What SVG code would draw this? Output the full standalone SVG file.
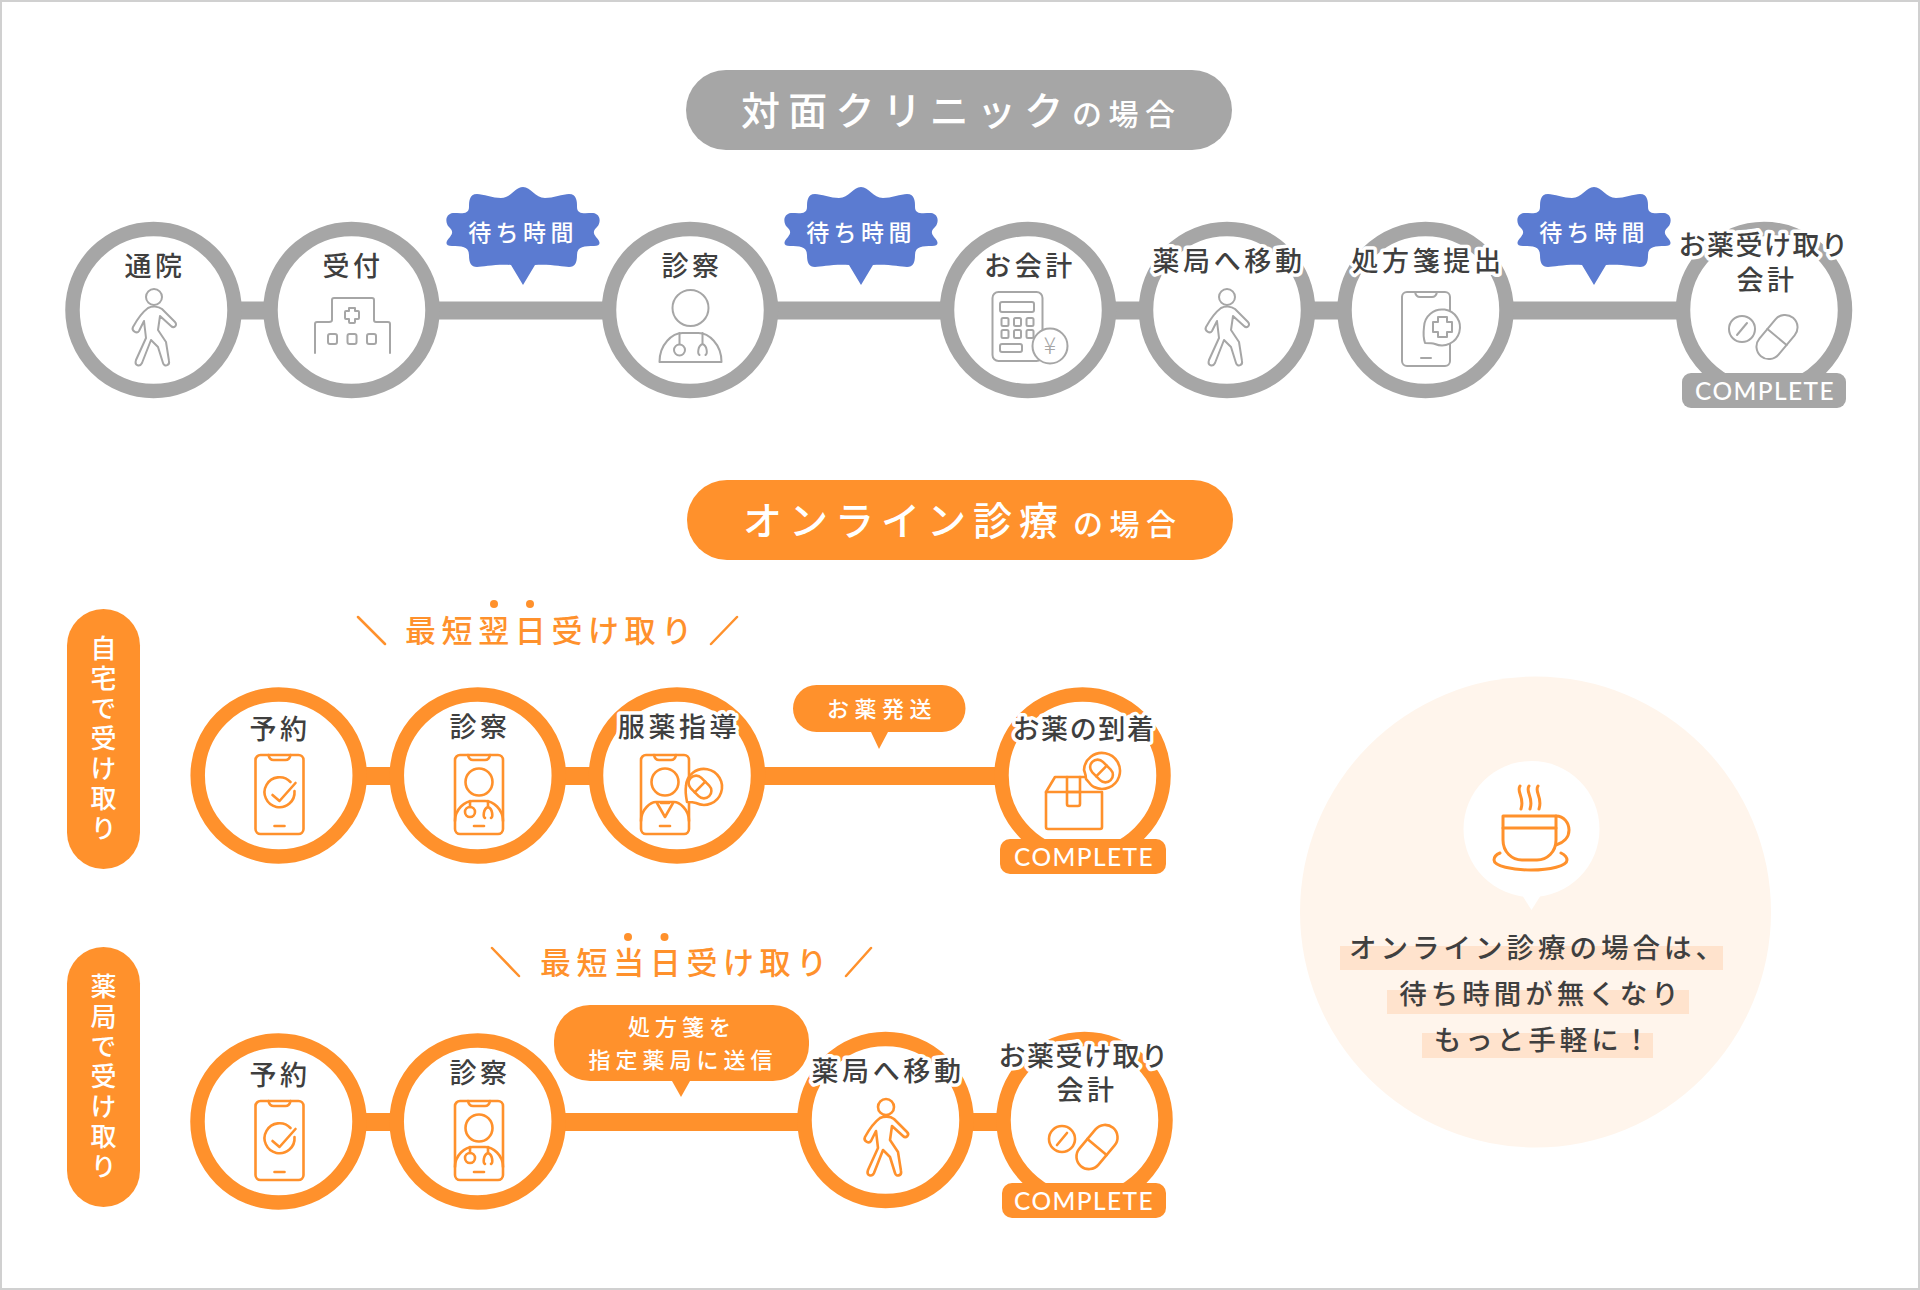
<svg xmlns="http://www.w3.org/2000/svg" width="1920" height="1290" viewBox="0 0 1920 1290">
<style>
text{font-family:"Noto Sans CJK JP","Noto Sans",sans-serif;}
.ring{fill:#fff;stroke-width:14.5}
.g .ring{stroke:#a6a6a6}.o .ring{stroke:#ff912c}
.con{stroke-width:18;fill:none}
.cg{stroke:#a6a6a6}.co{stroke:#ff912c}
.ig{fill:none;stroke:#a6a6a6;stroke-width:2;stroke-linecap:round;stroke-linejoin:round}
.io{fill:none;stroke:#ff912c;stroke-width:2.6;stroke-linecap:round;stroke-linejoin:round}
.lb{font-size:27px;font-weight:500;fill:#3f3f3f;text-anchor:middle;letter-spacing:3.6px}
.hl{paint-order:stroke;stroke:#fff;stroke-width:7px;stroke-linejoin:round}
.wh{fill:#fff;text-anchor:middle;font-weight:500}
.wt{font-size:23px;letter-spacing:4.4px}
.cp{font-family:"Lato",sans-serif;font-size:24.500px;font-weight:500;letter-spacing:1.4px;fill:#fff;text-anchor:middle}
.hd{fill:#fff;font-weight:500;letter-spacing:7px;font-size:39px}
.hs{font-size:30px;letter-spacing:6.500px}
.v{fill:#fff;font-size:26px;font-weight:500;writing-mode:vertical-rl;letter-spacing:4px;text-anchor:start}
.sub{fill:#ff912c;font-size:31px;font-weight:500;letter-spacing:5.6px}
.sl{stroke:#ff912c;stroke-width:2.5;stroke-linecap:round;fill:none}
.bb{font-size:22px;letter-spacing:5.5px}
.msg{fill:#3f3f3f;font-size:27.500px;font-weight:500;letter-spacing:4px;text-anchor:middle}
.band{fill:#ffe3cd}
</style>
<defs>
<g id="i-walk">
<ellipse cx="0" cy="-13" rx="8" ry="8"/>
<path d="M-6,-2C-10,1 -15,6 -21,17C-23,21 -17,24 -15,21L-10,11L-8,28L-18,50C-20,56 -14,57 -12,53L-3,30L4,37L9,53C10,57 16,56 15,51L12,32L4,20L6,6L17,16C20,19 24,15 21,12L8,-1C4,-4 -2,-4 -6,-2Z"/>
</g>
<g id="i-pills">
<circle cx="-22" cy="19" r="13"/><path d="M-27,25L-17,13"/>
<g transform="translate(13,27) rotate(40)"><rect x="-12.500" y="-25" width="25" height="50" rx="12.500"/><path d="M-12.500,0H12.500"/></g>
</g>
<g id="i-phone">
<rect x="-24" y="0" width="48" height="79" rx="5"/>
<path d="M-11,0Q-10,5 -6,5H6Q10,5 11,0"/><path d="M-5,71H5"/>
</g>
<g id="i-check"><use href="#i-phone"/><path d="M11,27A15,15 0 1 0 15,36"/><path d="M-7,40L0,46L16,28"/></g>
<g id="i-docphone"><use href="#i-phone"/><circle cx="0" cy="27" r="13.500"/>
<path d="M-24,66C-24,54 -14,46 -6,46H6C14,46 24,54 24,66"/><path d="M-9,46V52"/><circle cx="-9" cy="57" r="5"/><path d="M9,46V52C4,54 4,62 6,63M9,52C14,54 14,62 12,63"/></g>
<g id="i-cap"><g transform="rotate(-45)"><rect x="-7.500" y="-13" width="15" height="26" rx="7.500"/><path d="M-7.500,0H7.500"/></g></g>
<path id="burst" d="M0,-40C8,-40 12,-29 22,-29C30,-29 40,-33 46,-33C54,-33 54,-25 54,-20C54,-12 62,-14 70,-14C78,-13 78,-4 74,0C70,4 70,6 73,10C78,15 78,19 71,19C62,19 54,19 54,28C54,36 52,40 46,40C40,40 28,37 12,38L0,58L-12,38C-28,37 -40,40 -46,40C-52,40 -54,36 -54,28C-54,19 -62,19 -71,19C-78,19 -78,15 -73,10C-70,6 -70,4 -74,0C-78,-4 -78,-13 -70,-14C-62,-14 -54,-12 -54,-20C-54,-25 -54,-33 -46,-33C-40,-33 -30,-29 -22,-29C-12,-29 -8,-40 0,-40Z"/>
</defs>
<rect width="1920" height="1290" fill="#fff"/>
<rect x="1" y="1" width="1918" height="1288" fill="none" stroke="#d0d0d0" stroke-width="2"/>

<g id="connectors">
<path class="con cg" d="M153,310.500H1764"/>
<path class="con co" d="M279,776H1082"/>
<path class="con co" d="M279,1122H1084"/>
</g>

<g id="title-clinic"><rect x="686" y="70" width="546" height="80" rx="40" fill="#a6a6a6"/>
<text class="hd" style="letter-spacing:8.200px" x="741" y="125">対面クリニック<tspan class="hs" x="1072" y="125">の場合</tspan></text></g>

<g class="g">
<g id="n-tsuin"><circle class="ring" cx="153.500" cy="310" r="81"/><text class="lb" x="155" y="276">通院</text><use class="ig" href="#i-walk" x="154" y="310"/></g>
<g id="n-uketsuke"><circle class="ring" cx="351.500" cy="310" r="81"/><text class="lb" x="353" y="276">受付</text>
<g class="ig" transform="translate(352,310)"><path d="M-37,43V14Q-37,12 -35,12H-23Q-20,12 -20,10V-10Q-20,-12 -18,-12H20Q22,-12 22,-10V10Q22,12 24,12H36Q38,12 38,14V43"/><path d="M-3,-3H3V0H6Q7,0 7,1V7Q7,8 6,8H3V11Q3,12 2,12H-2Q-3,12 -3,11V8H-6Q-7,8 -7,7V1Q-7,0 -6,0H-3Z" transform="translate(0,1)"/><rect x="-24" y="24" width="9" height="10" rx="2"/><rect x="-4.500" y="24" width="9" height="10" rx="2"/><rect x="15" y="24" width="9" height="10" rx="2"/></g></g>
<g id="n-shinsatsu"><circle class="ring" cx="690" cy="310" r="81"/><text class="lb" x="692" y="276">診察</text>
<g class="ig" transform="translate(690.500,310)"><circle cx="0" cy="-2" r="18"/><path d="M-31,52C-31,34 -18,23 -8,23H8C18,23 31,34 31,52H-31Z"/><path d="M-11,23V34"/><circle cx="-11" cy="40" r="5.500"/><path d="M12,23V34C7,36 7,44 9,45M12,34C17,36 17,44 15,45"/></g></g>
<g id="n-kaikei"><circle class="ring" cx="1028" cy="310" r="81"/><text class="lb" x="1030" y="276">お会計</text>
<g class="ig"><rect x="992.500" y="292" width="50" height="69" rx="6"/><rect x="1000" y="302" width="34" height="10" rx="2"/>
<rect x="1001.500" y="318" width="7" height="8" rx="1.500"/><rect x="1014" y="318" width="7" height="8" rx="1.500"/><rect x="1026.500" y="318" width="7" height="8" rx="1.500"/>
<rect x="1001.500" y="330" width="7" height="8" rx="1.500"/><rect x="1014" y="330" width="7" height="8" rx="1.500"/><rect x="1026.500" y="330" width="7" height="8" rx="1.500"/>
<rect x="1000" y="344" width="22" height="8" rx="2"/>
<circle cx="1050" cy="346" r="17.500" fill="#fff"/></g><text x="1050" y="354" font-size="23" fill="#a6a6a6" text-anchor="middle" font-weight="300">¥</text></g>
<g id="n-idou"><circle class="ring" cx="1227" cy="310" r="81"/><text class="lb hl" x="1229" y="271">薬局へ移動</text><use class="ig" href="#i-walk" x="1227" y="310"/></g>
<g id="n-teishutsu"><circle class="ring" cx="1425.500" cy="310" r="81"/><text class="lb hl" x="1428" y="271">処方箋提出</text>
<g class="ig"><rect x="1402" y="292" width="48" height="74" rx="5"/><path d="M1415,292Q1416,297 1420,297H1432Q1436,297 1437,292"/><path d="M1421,358H1431"/>
<path d="M1425,343C1424,340 1423,335 1424,327A18,18 0 1 1 1435,344C1432,343 1428,343 1425,343Z" fill="#fff"/>
<path d="M1438,317H1447V322H1452V332H1447V337H1438V332H1433V322H1438Z"/></g></g>
<g id="n-uketori"><circle class="ring" cx="1764" cy="310" r="81"/><text class="lb hl" style="letter-spacing:1.500px" x="1764" y="255">お薬受け取り</text><text class="lb" x="1767" y="290">会計</text><use class="ig" href="#i-pills" x="1764" y="310"/>
<rect x="1682" y="373" width="164" height="35" rx="9" fill="#a6a6a6"/><text class="cp" x="1765" y="400">COMPLETE</text></g>
</g>

<g id="wait-1"><use href="#burst" x="523" y="227" fill="#5b7bd1"/><text class="wh wt" x="523" y="241">待ち時間</text></g>
<g id="wait-2"><use href="#burst" x="861" y="227" fill="#5b7bd1"/><text class="wh wt" x="861" y="241">待ち時間</text></g>
<g id="wait-3"><use href="#burst" x="1594" y="227" fill="#5b7bd1"/><text class="wh wt" x="1594" y="241">待ち時間</text></g>

<g id="title-online"><rect x="687" y="480" width="546" height="80" rx="40" fill="#ff912c"/>
<text class="hd" x="743" y="535">オンライン診療<tspan class="hs" x="1073" y="535">の場合</tspan></text></g>

<g id="side-home"><rect x="67" y="609" width="73" height="260" rx="36.500" fill="#ff912c"/><text class="v" x="103.500" y="635">自宅で受け取り</text></g>
<g id="side-pharmacy"><rect x="67" y="947" width="73" height="260" rx="36.500" fill="#ff912c"/><text class="v" x="103.500" y="973">薬局で受け取り</text></g>

<g id="sub-next">
<path class="sl" d="M358,617L385,644M737,617L711,644"/><circle cx="494" cy="604" r="4" fill="#ff912c"/><circle cx="530" cy="604" r="4" fill="#ff912c"/>
<text class="sub" x="405" y="642">最短翌日受け取り</text></g>
<g id="sub-today">
<path class="sl" d="M492,948L519,976M871,948L846,976"/><circle cx="628" cy="937" r="4" fill="#ff912c"/><circle cx="664.500" cy="937" r="4" fill="#ff912c"/>
<text class="sub" x="540" y="974">最短当日受け取り</text></g>

<g class="o">
<g id="a-yoyaku"><circle class="ring" cx="278.700" cy="775.500" r="81"/><text class="lb" x="280" y="739">予約</text><use class="io" href="#i-check" x="279.500" y="755"/></g>
<g id="a-shinsatsu"><circle class="ring" cx="477.800" cy="775.500" r="81"/><text class="lb" x="480" y="737">診察</text><use class="io" href="#i-docphone" x="479" y="755"/></g>
<g id="a-fukuyaku"><circle class="ring" cx="677" cy="775.500" r="81"/><text class="lb hl" x="679" y="737">服薬指導</text>
<g class="io" transform="translate(665,755)"><use href="#i-phone"/><circle cx="0" cy="27" r="13.500"/><path d="M-24,66C-24,54 -14,47 -9,47H9C14,47 24,54 24,66"/><path d="M-8,48L0,62L8,48M-4,48H4"/>
<path d="M22,47C21,42 20,37 21,31A18,18 0 1 1 31,48C28,47 25,47 22,47Z" fill="#fff"/><use href="#i-cap" x="35" y="32"/></g></g>
<g id="a-touchaku"><circle class="ring" cx="1082.500" cy="775.500" r="81"/><text class="lb hl" style="letter-spacing:1.600px" x="1084" y="739">お薬の到着</text>
<g class="io"><path d="M1046,792H1102V827Q1102,829 1100,829H1048Q1046,829 1046,827Z"/><path d="M1046,792L1055,777H1090"/><path d="M1067,777V804Q1067,806 1069,806H1078Q1080,806 1080,804V777"/><path d="M1067,792H1080"/>
<path d="M1086,779C1086,775 1085,773 1084,770A18,18 0 1 1 1094,787C1091,786 1089,782 1086,779Z" fill="#fff"/><use href="#i-cap" x="1101.500" y="771"/></g>
<rect x="1000" y="839" width="166" height="35" rx="10" fill="#ff912c"/><text class="cp" x="1084" y="866">COMPLETE</text></g>
</g>

<g id="b-ship"><path d="M816.500,685H942A23.500,23.500 0 0 1 942,732H888L879,749L871,732H816.500A23.500,23.500 0 0 1 816.500,685Z" fill="#ff912c"/><text class="wh bb" x="882" y="717">お薬発送</text></g>

<g class="o">
<g id="c-yoyaku"><circle class="ring" cx="278.500" cy="1121.500" r="81"/><text class="lb" x="280" y="1085">予約</text><use class="io" href="#i-check" x="279.500" y="1101"/></g>
<g id="c-shinsatsu"><circle class="ring" cx="477.700" cy="1121.500" r="81"/><text class="lb" x="480" y="1083">診察</text><use class="io" href="#i-docphone" x="479" y="1101"/></g>
<g id="c-idou"><circle class="ring" cx="885.500" cy="1120" r="81"/><text class="lb hl" x="888" y="1081">薬局へ移動</text><use class="io" href="#i-walk" x="886" y="1120"/></g>
<g id="c-uketori"><circle class="ring" cx="1084.500" cy="1120" r="81"/><text class="lb hl" style="letter-spacing:1.500px" x="1084" y="1066">お薬受け取り</text><text class="lb" x="1087" y="1100">会計</text><use class="io" href="#i-pills" x="1084" y="1120"/>
<rect x="1002" y="1183" width="164" height="35" rx="10" fill="#ff912c"/><text class="cp" x="1084" y="1210">COMPLETE</text></g>
</g>

<g id="b-rx"><path d="M590,1005H773A36,36 0 0 1 809,1041V1045A36,36 0 0 1 773,1081H690L681,1097L672,1081H590A36,36 0 0 1 554,1045V1041A36,36 0 0 1 590,1005Z" fill="#ff912c"/>
<text class="wh bb" style="letter-spacing:5px" x="682" y="1035">処方箋を</text><text class="wh bb" style="letter-spacing:5px" x="683" y="1068">指定薬局に送信</text></g>

<g id="note">
<circle cx="1535.500" cy="912" r="235.500" fill="#fff5ec"/>
<circle cx="1531.500" cy="829" r="68" fill="#fff"/><path d="M1522,895L1531.500,910L1541,895Z" fill="#fff"/>
<g class="io" style="stroke-width:3"><path d="M1503,816H1556V840C1556,852 1547,860 1537,860H1522C1512,860 1503,852 1503,840Z"/><path d="M1503,828H1556"/><path d="M1556,816C1564,816 1569,823 1569,830C1569,838 1563,843 1556,845"/><path d="M1500,853C1495,855 1494,858 1494,860C1494,866 1512,870 1531,870C1550,870 1567,866 1567,860C1567,857 1565,855 1561,853"/>
<path d="M1520,786C1516,792 1525,797 1521,809M1529,786C1525,792 1534,797 1530,809M1538,786C1534,792 1543,797 1539,809"/></g>
<rect class="band" x="1340" y="946" width="383" height="24"/><rect class="band" x="1387" y="990" width="302" height="24"/><rect class="band" x="1422" y="1033" width="231" height="25"/>
<text class="msg" x="1538" y="958">オンライン診療の場合は、</text><text class="msg" x="1541" y="1004">待ち時間が無くなり</text><text class="msg" x="1544" y="1050">もっと手軽に！</text>
</g>
</svg>
